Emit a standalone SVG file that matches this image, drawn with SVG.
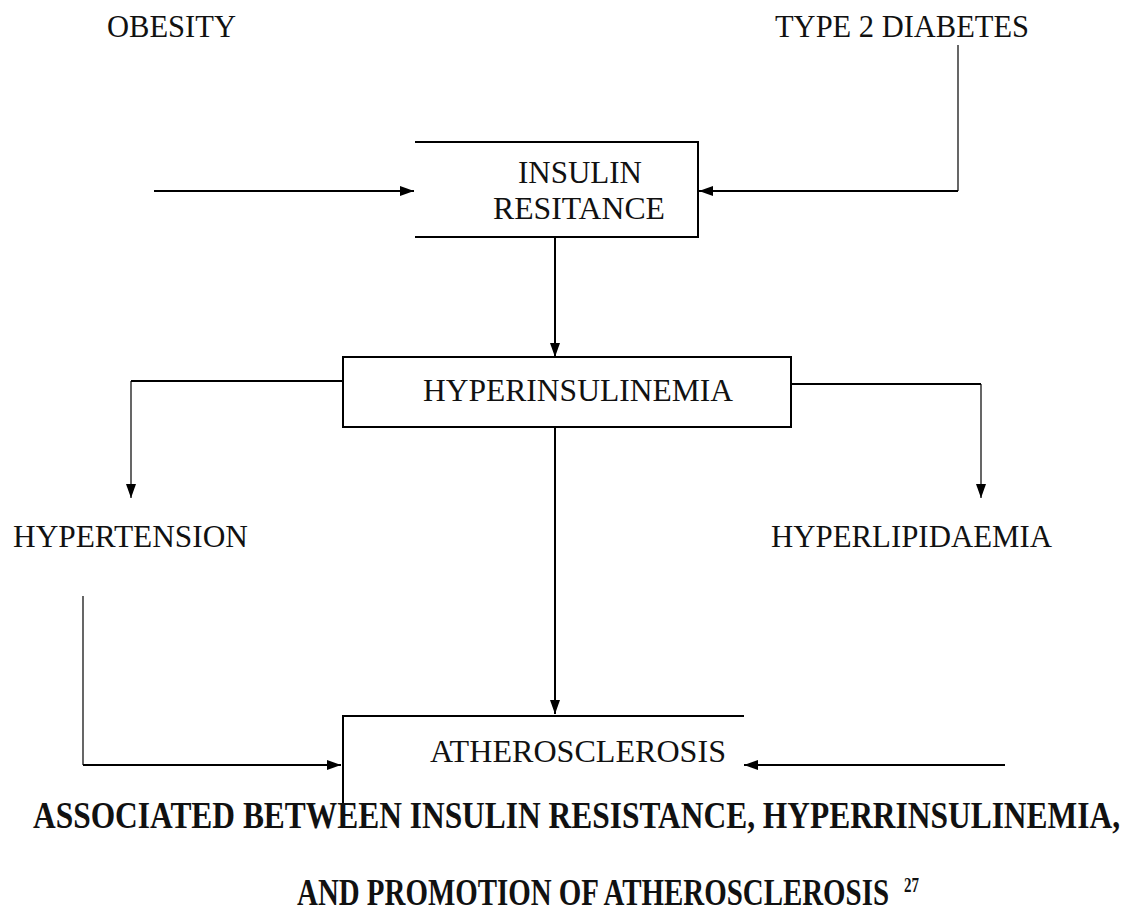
<svg xmlns="http://www.w3.org/2000/svg" width="1138" height="911" viewBox="0 0 1138 911">
<style>
.t{font-family:"Liberation Serif","Times New Roman",serif;fill:#111;}
.r{font-size:31px;}
.b{font-size:29.5px;font-weight:bold;}
.ln{fill:none;stroke:#000;stroke-width:2;}
.th{fill:none;stroke:#000;stroke-width:1.2;}
</style>
<defs>
<marker id="ah" markerUnits="userSpaceOnUse" markerWidth="16" markerHeight="12" refX="14" refY="5" orient="auto">
<path d="M0,0 L14,5 L0,10 z" fill="#000"/>
</marker>
</defs>
<rect width="1138" height="911" fill="#fff"/>
<g id="connectors">
<line class="ln" x1="154" y1="191" x2="414" y2="191" marker-end="url(#ah)"/>
<line class="th" x1="958" y1="45" x2="958" y2="191"/>
<line class="ln" x1="958" y1="191" x2="699" y2="191" marker-end="url(#ah)"/>
<line class="ln" x1="555" y1="237" x2="555" y2="357" marker-end="url(#ah)"/>
<line class="ln" x1="343" y1="381" x2="131" y2="381"/>
<line class="th" x1="131" y1="381" x2="131" y2="498" marker-end="url(#ah)"/>
<line class="ln" x1="791" y1="384" x2="981" y2="384"/>
<line class="th" x1="981" y1="384" x2="981" y2="498" marker-end="url(#ah)"/>
<line class="ln" x1="555" y1="427" x2="555" y2="714" marker-end="url(#ah)"/>
<line class="th" x1="83" y1="596" x2="83" y2="765"/>
<line class="ln" x1="83" y1="765" x2="341" y2="765" marker-end="url(#ah)"/>
<line class="ln" x1="1005" y1="765" x2="744" y2="765" marker-end="url(#ah)"/>
</g>
<g id="obesity"><text class="t r" x="107" y="37" textLength="129" lengthAdjust="spacingAndGlyphs">OBESITY</text></g>
<g id="type2"><text class="t r" x="775" y="37" textLength="254" lengthAdjust="spacingAndGlyphs">TYPE 2 DIABETES</text></g>
<g id="insulin-resistance">
<path class="ln" d="M415,142 H698 V237 H415"/>
<text class="t r" x="518" y="183" textLength="124" lengthAdjust="spacingAndGlyphs">INSULIN</text>
<text class="t r" x="493" y="219" textLength="172" lengthAdjust="spacingAndGlyphs">RESITANCE</text>
</g>
<g id="hyperinsulinemia">
<rect class="ln" x="343" y="357" width="448" height="70"/>
<text class="t r" x="423" y="401" textLength="310" lengthAdjust="spacingAndGlyphs">HYPERINSULINEMIA</text>
</g>
<g id="hypertension"><text class="t r" x="13" y="547" font-size="32" textLength="235" lengthAdjust="spacingAndGlyphs">HYPERTENSION</text></g>
<g id="hyperlipidaemia"><text class="t r" x="771" y="547" font-size="32" textLength="281" lengthAdjust="spacingAndGlyphs">HYPERLIPIDAEMIA</text></g>
<g id="atherosclerosis">
<path class="ln" d="M744,716 H343 V810"/>
<text class="t r" x="430" y="762" textLength="296" lengthAdjust="spacingAndGlyphs">ATHEROSCLEROSIS</text>
</g>
<g id="caption">
<text class="t b" transform="translate(33,828) scale(1,1.3)" x="0" y="0" textLength="1087" lengthAdjust="spacingAndGlyphs">ASSOCIATED BETWEEN INSULIN RESISTANCE, HYPERRINSULINEMIA,</text>
<text class="t b" transform="translate(297,905) scale(1,1.3)" x="0" y="0" textLength="592" lengthAdjust="spacingAndGlyphs">AND PROMOTION OF ATHEROSCLEROSIS</text>
<text class="t" transform="translate(904,892) scale(1,1.3)" x="0" y="0" font-size="16" font-weight="bold" textLength="15" lengthAdjust="spacingAndGlyphs">27</text>
</g>
</svg>
